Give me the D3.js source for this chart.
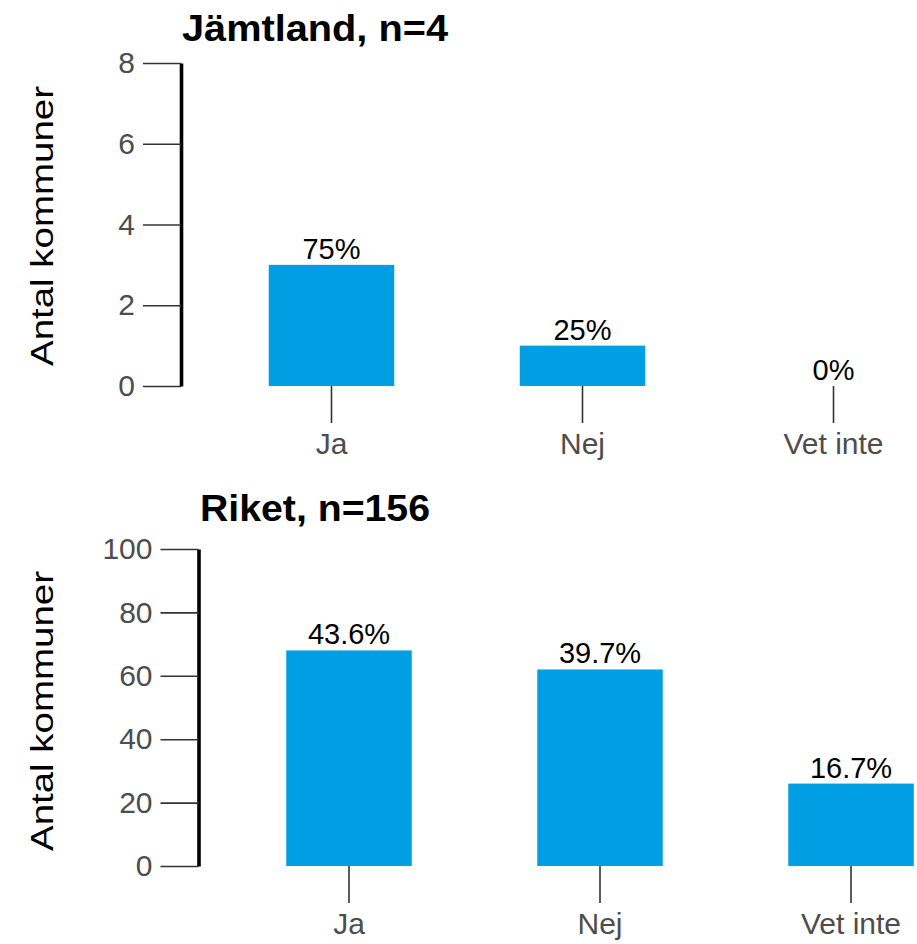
<!DOCTYPE html>
<html>
<head>
<meta charset="utf-8">
<script src="https://cdn.jsdelivr.net/npm/d3@7"></script>
<style>
  body { margin: 0; background: #fff; }
  text { font-family: "Liberation Sans", Arial, sans-serif; }
</style>
</head>
<body>
<script>
// Data
var kategorier = ["Ja", "Nej", "Vet inte"];

var jamtlandAntal = [3, 1, 0];
var jamtlandProcent = ["75%", "25%", "0%"];
var jamtlandTicks = [0, 2, 4, 6, 8];

var riketAntal = [68, 62, 26];
var riketProcent = ["43.6%", "39.7%", "16.7%"];
var riketTicks = [0, 20, 40, 60, 80, 100];

var titlar = ["Jämtland, n=4", "Riket, n=156"];
var yTitel = "Antal kommuner";

var svg = d3.select("body").append("svg")
  .attr("width", 917)
  .attr("height", 944);

// Layout per panel
var paneler = [
  { titel: titlar[0], antal: jamtlandAntal, procent: jamtlandProcent, ticks: jamtlandTicks,
    axelX: 181, topp: 63, botten: 386, titelX: 182, titelY: 41, titelBredd: 266, yTitelY: 226 },
  { titel: titlar[1], antal: riketAntal, procent: riketProcent, ticks: riketTicks,
    axelX: 198.5, topp: 549, botten: 866, titelX: 200, titelY: 521, titelBredd: 230, yTitelY: 711 }
];

paneler.forEach(function(p) {
  var g = svg.append("g");

  var x = d3.scaleBand()
    .domain(kategorier)
    .range([p.axelX + 25, p.axelX + 25 + 753])
    .paddingInner(0.5)
    .paddingOuter(0.25);

  var y = d3.scaleLinear()
    .domain([0, d3.max(p.ticks)])
    .range([p.botten, p.topp]);

  // Titel
  g.append("text")
    .attr("x", p.titelX)
    .attr("y", p.titelY)
    .attr("font-size", 36)
    .attr("font-weight", "bold")
    .attr("fill", "#000")
    .attr("textLength", p.titelBredd)
    .attr("lengthAdjust", "spacingAndGlyphs")
    .text(p.titel);

  // Y-axel titel
  g.append("text")
    .attr("transform", "translate(53," + p.yTitelY + ") rotate(-90)")
    .attr("text-anchor", "middle")
    .attr("font-size", 31)
    .attr("fill", "#000")
    .attr("textLength", 280)
    .attr("lengthAdjust", "spacingAndGlyphs")
    .text(yTitel);

  // Staplar
  g.selectAll("rect")
    .data(p.antal)
    .enter()
    .append("rect")
    .attr("x", function(d, i) { return x(kategorier[i]); })
    .attr("y", function(d) { return y(d); })
    .attr("width", x.bandwidth())
    .attr("height", function(d) { return p.botten - y(d); })
    .attr("fill", "#009fe3");

  // Procentetiketter
  g.selectAll("text.etikett")
    .data(p.antal)
    .enter()
    .append("text")
    .attr("class", "etikett")
    .attr("x", function(d, i) { return x(kategorier[i]) + x.bandwidth() / 2; })
    .attr("y", function(d) { return y(d) - 6; })
    .attr("text-anchor", "middle")
    .attr("font-size", 29)
    .attr("fill", "#000")
    .text(function(d, i) { return p.procent[i]; });

  // Y-axel
  var yAxel = g.append("g")
    .attr("transform", "translate(" + p.axelX + ",0)")
    .call(d3.axisLeft(y).tickValues(p.ticks).tickSize(38).tickSizeOuter(0).tickPadding(8));
  yAxel.selectAll(".tick line").attr("stroke", "#333").attr("stroke-width", 1.6);
  yAxel.selectAll(".tick text").attr("fill", "#4d4d4d").attr("font-size", 30)
    .style("font-family", "'Liberation Sans', Arial, sans-serif");
  yAxel.select(".domain").attr("stroke", "#000").attr("stroke-width", 3.6);
  yAxel.raise();

  // X-axel
  var xAxel = g.append("g")
    .attr("transform", "translate(0," + p.botten + ")")
    .call(d3.axisBottom(x).tickSize(37).tickPadding(10));
  xAxel.select(".domain").remove();
  xAxel.selectAll(".tick line").attr("stroke", "#333").attr("stroke-width", 1.6);
  xAxel.selectAll(".tick text").attr("fill", "#4d4d4d").attr("font-size", 30)
    .style("font-family", "'Liberation Sans', Arial, sans-serif");
});
</script>
</body>
</html>
